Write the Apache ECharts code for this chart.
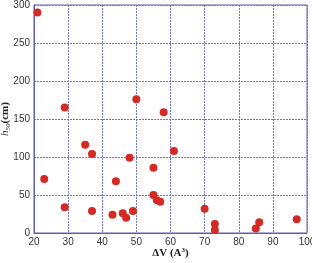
<!DOCTYPE html>
<html>
<head>
<meta charset="utf-8">
<script src="https://cdn.jsdelivr.net/npm/echarts@6/dist/echarts.min.js"></script>
<style>
  html, body { margin: 0; padding: 0; background: #fff; }
  #chart { width: 312px; height: 263px; }
</style>
</head>
<body>
<div id="chart"></div>
<script>
// ΔV (A^3) vs h50 (cm)
const deltaV = [21, 23, 29, 29, 35, 37, 37, 43, 44, 46, 47, 48, 49, 50, 55, 55, 56, 57, 58, 61, 70, 73, 73, 85, 86, 97]
const h50 = [290, 71, 165, 34, 116, 104, 29, 24, 68, 26, 20, 99, 29, 176, 86, 50, 43, 41, 159, 108, 32, 12, 4, 6, 14, 18]
const xTicks = [20, 30, 40, 50, 60, 70, 80, 90, 100]
const yTicks = [0, 50, 100, 150, 200, 250, 300]

const points = deltaV.map((v, i) => [v, h50[i]])

const chart = echarts.init(document.getElementById('chart'))
const frameColor = '#5c5fa6'
const gridColor = '#7474c8'

chart.setOption({
  animation: false,
  grid: {
    left: 34,
    right: 5,
    top: 5,
    bottom: 30,
    outerBoundsMode: 'none',
    containLabel: false,
    show: true,
    borderColor: frameColor,
    borderWidth: 1,
  },
  xAxis: {
    type: 'value',
    min: xTicks[0],
    max: xTicks[xTicks.length - 1],
    interval: 10,
    name: '{b|ΔV (A}{s|3}{b|)}',
    nameLocation: 'middle',
    nameGap: 14,
    nameMoveOverlap: false,
    nameTextStyle: {
      rich: {
        b: { fontFamily: 'Liberation Serif', fontWeight: 'bold', fontSize: 11, color: '#222' },
        s: { fontFamily: 'Liberation Serif', fontWeight: 'bold', fontSize: 7, color: '#222', verticalAlign: 'top', padding: [0, 0, 6, 0] },
      },
    },
    axisLine: { show: true, lineStyle: { color: frameColor } },
    axisTick: { show: false },
    axisLabel: { margin: 4, fontFamily: 'Liberation Sans', fontSize: 10, color: '#333' },
    splitLine: { show: true, lineStyle: { color: gridColor, type: [2, 1], width: 1 } },
  },
  yAxis: {
    type: 'value',
    min: yTicks[0],
    max: yTicks[yTicks.length - 1],
    interval: 50,
    name: '{i|h}{s|50}{b|(cm)}',
    nameLocation: 'middle',
    nameGap: 22,
    nameMoveOverlap: false,
    nameTextStyle: {
      rich: {
        i: { fontFamily: 'Liberation Serif', fontStyle: 'italic', fontSize: 11, color: '#222' },
        s: { fontFamily: 'Liberation Serif', fontStyle: 'italic', fontSize: 7, color: '#222', padding: [6, 0, 0, 0] },
        b: { fontFamily: 'Liberation Serif', fontWeight: 'bold', fontSize: 11, color: '#222' },
      },
    },
    axisLine: { show: true, lineStyle: { color: frameColor } },
    axisTick: { show: false },
    axisLabel: { margin: 4, fontFamily: 'Liberation Sans', fontSize: 10, color: '#333' },
    splitLine: { show: true, lineStyle: { color: gridColor, type: [2, 1], width: 1 } },
  },
  series: [
    {
      type: 'scatter',
      data: points,
      symbolSize: 8,
      itemStyle: { color: '#d42a24', opacity: 1 },
    },
  ],
})
</script>
</body>
</html>
